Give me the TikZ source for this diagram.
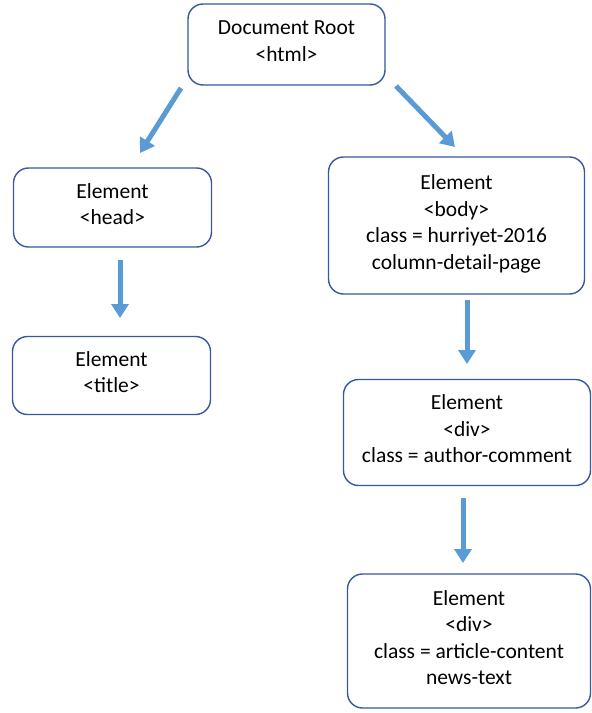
\documentclass[tikz,border=0pt]{standalone}
\usepackage{fontspec}
\setmainfont{Carlito}
\usetikzlibrary{arrows.meta}
\definecolor{boxline}{RGB}{53,89,155}
\definecolor{arrowblue}{RGB}{91,155,213}
\tikzset{
  elem/.style={draw=boxline, line width=1.4bp, rounded corners=15bp, fill=white,
    align=center, inner sep=0pt, text depth=7bp, font=\fontsize{21.5bp}{26.5bp}\selectfont},
  conn/.style={draw=arrowblue, line width=5bp, -{Triangle[width=17bp,length=14bp]}}
}
\begin{document}
\begin{tikzpicture}[x=1bp,y=-1bp]
\useasboundingbox (0,0) rectangle (592,713);
\node[elem, minimum width=197bp, minimum height=81bp] (root) at (286.5,44.5) {Document Root\\<html>};
\node[elem, minimum width=198bp, minimum height=79bp] (head) at (112.5,207.5) {Element\\<head>};
\node[elem, minimum width=198bp, minimum height=78bp] (title) at (111.5,375.5) {Element\\<title>};
\node[elem, minimum width=256bp, minimum height=137bp] (body) at (456.5,225.5) {Element\\<body>\\class = hurriyet-2016\\column-detail-page};
\node[elem, minimum width=247bp, minimum height=106bp] (div1) at (467,432.5) {Element\\<div>\\class = author-comment};
\node[elem, minimum width=243bp, minimum height=134bp] (div2) at (469,641) {Element\\<div>\\class = article-content\\news-text};
\coordinate (a1s) at (181,88);
\coordinate (a1e) at (140,153);
\coordinate (a2s) at (396,86);
\coordinate (a2e) at (455,147);
\coordinate (a3s) at (120,260);
\coordinate (a3e) at (120,318);
\coordinate (a4s) at (467,300);
\coordinate (a4e) at (467,364);
\coordinate (a5s) at (463,498);
\coordinate (a5e) at (463,563);
\draw[conn] (a1s) -- (a1e);
\draw[conn] (a2s) -- (a2e);
\draw[conn] (a3s) -- (a3e);
\draw[conn] (a4s) -- (a4e);
\draw[conn] (a5s) -- (a5e);
\end{tikzpicture}
\end{document}
